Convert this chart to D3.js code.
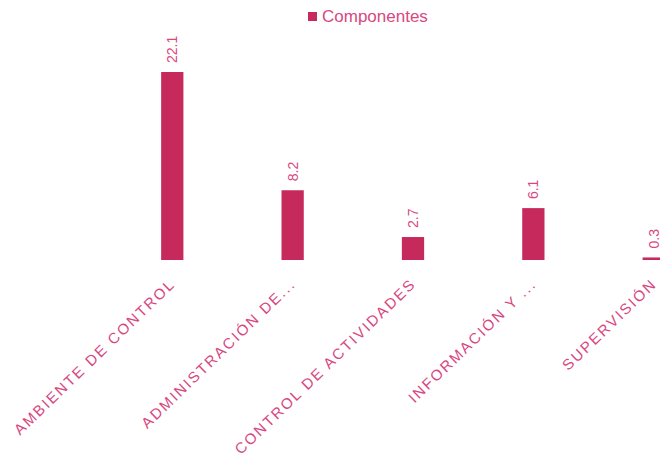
<!DOCTYPE html>
<html>
<head>
<meta charset="utf-8">
<script src="https://cdn.jsdelivr.net/npm/d3@7"></script>
<style>
body { margin: 0; background: #fff; }
svg { font-family: "Liberation Sans", Arial, sans-serif; }
</style>
</head>
<body>
<svg class="chart" width="660" height="464"></svg>
<script>
var categories = ["AMBIENTE DE CONTROL", "ADMINISTRACIÓN DE...", "CONTROL DE ACTIVIDADES", "INFORMACIÓN Y ...", "SUPERVISIÓN"];
var values = [22.1, 8.2, 2.7, 6.1, 0.3];
var seriesName = "Componentes";

var barColor = "#c62a5d",
	textColor = "#d8487f";

var svg = d3.select(".chart");

var x = d3.scaleBand()
	.domain(categories)
	.range([113, 713])
	.paddingInner(0.815)
	.paddingOuter(0.4);

var y = d3.scaleLinear()
	.domain([0, 22.1])
	.range([260, 72]);

svg.selectAll("rect.bar")
	.data(values)
	.enter()
	.append("rect")
	.attr("class", "bar")
	.attr("x", function(d, i) { return x(categories[i]); })
	.attr("y", function(d) { return y(d); })
	.attr("width", x.bandwidth())
	.attr("height", function(d) { return y(0) - y(d); })
	.attr("fill", barColor);

// value labels, rotated
svg.selectAll("text.val")
	.data(values)
	.enter()
	.append("text")
	.attr("class", "val")
	.attr("transform", function(d, i) {
		return "translate(" + (x(categories[i]) + x.bandwidth() / 2 + 5) + "," + (y(d) - 9) + ") rotate(-90)";
	})
	.attr("fill", textColor)
	.attr("font-size", 14)
	.text(function(d) { return d.toFixed(1); });

// category labels at -45deg
var xAxis = svg.append("g")
	.attr("transform", "translate(0,260)")
	.call(d3.axisBottom(x).tickSize(0).tickPadding(0));
xAxis.select(".domain").remove();
xAxis.selectAll("text")
	.attr("fill", textColor)
	.attr("font-size", 15)
	.attr("font-family", "Liberation Sans, Arial, sans-serif")
	.style("letter-spacing", "2px")
	.attr("text-anchor", "end")
	.attr("dy", null)
	.attr("y", 0)
	.attr("transform", "translate(4,25) rotate(-44)");

// legend
var legend = svg.append("g").attr("transform", "translate(308,12)");
legend.append("rect")
	.attr("width", 9)
	.attr("height", 9)
	.attr("fill", barColor);
legend.append("text")
	.attr("x", 14)
	.attr("y", 10)
	.attr("fill", textColor)
	.attr("font-size", 17)
	.text(seriesName);
</script>
</body>
</html>
